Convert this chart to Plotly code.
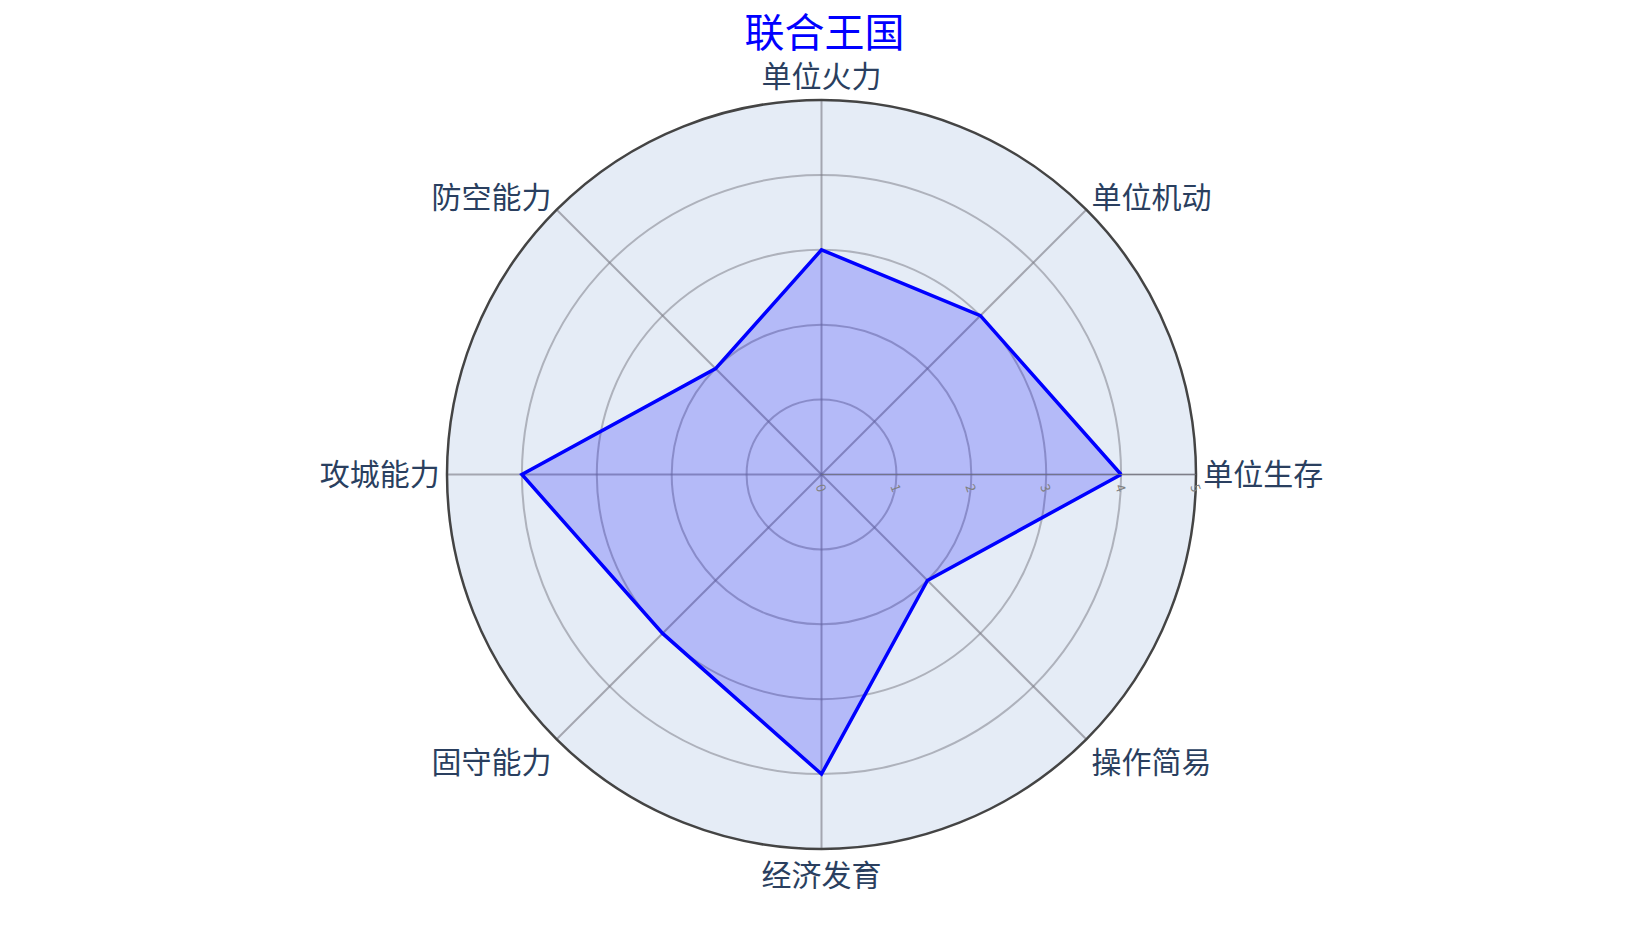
import plotly.graph_objects as go

categories = ["单位生存", "单位机动", "单位火力", "防空能力", "攻城能力", "固守能力", "经济发育", "操作简易"]
values = [4, 3, 3, 2, 4, 3, 4, 2]
title_text = "联合王国"

r_closed = values + values[:1]
theta_closed = categories + categories[:1]

fig = go.Figure()
fig.add_trace(go.Scatterpolar(
    r=r_closed,
    theta=theta_closed,
    fill="toself",
    fillcolor="rgba(0,0,255,0.21)",
    line=dict(color="blue", width=3.5),
    mode="lines",
    name=title_text,
))

fig.update_layout(
    template="plotly",
    width=1643,
    height=929,
    margin=dict(l=72, r=88, t=92, b=88),
    font=dict(family="Noto Sans CJK SC"),
    title=dict(text=title_text, x=0.497, xanchor="center", y=0.973, yanchor="middle",
               font=dict(size=40, color="blue", family="Noto Sans CJK SC")),
    showlegend=False,
    polar=dict(
        bgcolor="#E5ECF6",
        radialaxis=dict(
            visible=True,
            range=[0, 5],
            tickvals=[0, 1, 2, 3, 4, 5],
            tickfont=dict(size=13, color="gray"),
            tickangle=70,
            gridcolor="rgba(120,120,130,0.5)",
            gridwidth=1.5,
            linecolor="rgba(110,110,120,0.7)",
            showline=True,
            angle=0,
        ),
        angularaxis=dict(
            direction="counterclockwise",
            rotation=0,
            tickfont=dict(size=30, color="#2a3f5f"),
            gridcolor="rgba(120,120,130,0.6)",
            gridwidth=1.5,
            linecolor="#444",
            linewidth=2.5,
            showline=True,
        ),
    ),
)

fig.write_html("out.html")
